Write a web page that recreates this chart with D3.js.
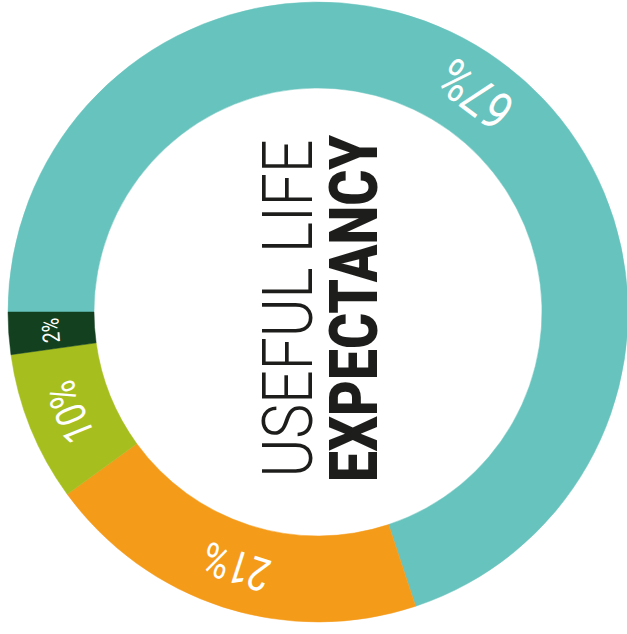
<!DOCTYPE html>
<html>
<head>
<meta charset="utf-8">
<script src="https://cdn.jsdelivr.net/npm/d3@7"></script>
<style>
  html, body { margin: 0; padding: 0; background: #fff; }
  svg { display: block; }
</style>
</head>
<body>
<script>
// segment labels as printed, and arc share as drawn in the picture (percent of ring)
var labels = ["67%", "21%", "10%", "2%"];
var shares = [69.9, 20.1, 7.8, 2.2];
var colors = ["#67c3bd", "#f59b1a", "#a6be1e", "#13401f"];
var titleLines = ["USEFUL LIFE", "EXPECTANCY"];

var w = 627,
    h = 634;

var cx = 318,
    cy = 312,
    outerR = 310,
    innerR = 224;

var svg = d3.select("body").append("svg")
    .attr("width", w).attr("height", h);

var ring = svg.append("g").attr("transform", "translate(" + [cx, cy] + ")");

var pie = d3.pie().sort(null).value(d => d)
    .startAngle(-Math.PI / 2).endAngle(1.5 * Math.PI);

var arc = d3.arc().innerRadius(innerR).outerRadius(outerR);

var slices = pie(shares);

ring.selectAll(".slice").data(slices).enter()
    .append("path").attr("class", "slice")
    .attr("d", arc)
    .attr("fill", (d, i) => colors[i])
    .attr("stroke", (d, i) => colors[i])
    .attr("stroke-width", 0.5);

// labels sit on the middle of the ring, turned along it
var midR = (innerR + outerR) / 2 + 1;
function labelSize(v) {
    return v > 50 ? 53 : v > 15 ? 46 : v > 5 ? 42 : 24;
}
ring.selectAll(".lbl").data(slices).enter()
    .append("text").attr("class", "lbl")
    .text((d, i) => labels[i])
    .attr("transform", d => {
        var a = (d.startAngle + d.endAngle) / 2;
        var deg = a * 180 / Math.PI;
        var rot = deg < 90 ? deg + 181 : deg;
        return "translate(" + [midR * Math.sin(a), -midR * Math.cos(a)] + ") rotate(" + rot + ")";
    })
    .attr("text-anchor", "middle")
    .attr("dy", "0.36em")
    .style("font-family", "Roboto, 'Open Sans', sans-serif")
    .style("font-weight", 400)
    .style("font-size", d => labelSize(d.value) + "px")
    .attr("fill", "#fff")
    .each(function () {
        var len = this.getComputedTextLength();
        d3.select(this).attr("textLength", len * 0.8).attr("lengthAdjust", "spacingAndGlyphs");
    });

// centre title, reading upward
var titleX = [312, 377],
    titleSize = [70, 66],
    titleWeight = [300, 900],
    titleLen = [338, 347];

svg.selectAll(".title").data(titleLines).enter()
    .append("text").attr("class", "title")
    .text(d => d)
    .attr("transform", (d, i) => "translate(" + [titleX[i], 308.5] + ") rotate(-90)")
    .attr("text-anchor", "middle")
    .attr("textLength", (d, i) => titleLen[i])
    .attr("lengthAdjust", "spacingAndGlyphs")
    .style("font-family", "Roboto, 'Open Sans', sans-serif")
    .style("font-weight", (d, i) => titleWeight[i])
    .style("font-size", (d, i) => titleSize[i] + "px")
    .attr("fill", "#1d1d1b");
</script>
</body>
</html>
